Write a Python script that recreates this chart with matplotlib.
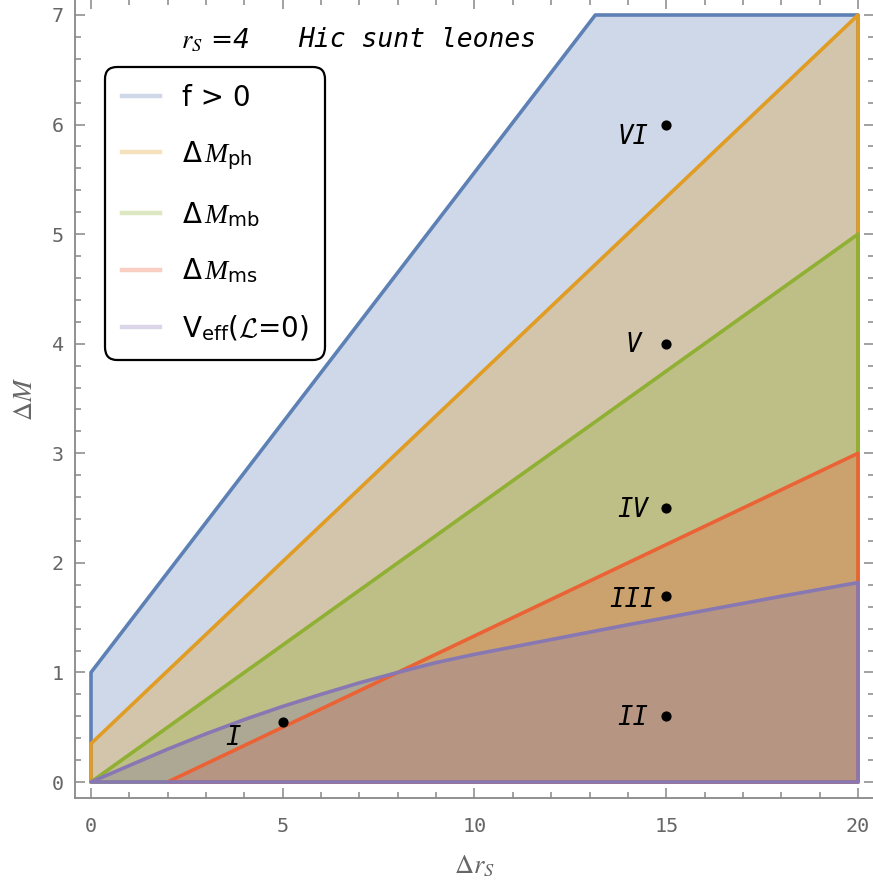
import matplotlib
matplotlib.use("Agg")
import matplotlib.pyplot as plt
from matplotlib.lines import Line2D
from matplotlib.patches import Polygon

plt.rcParams['mathtext.fontset'] = 'custom'
plt.rcParams['mathtext.rm'] = 'DejaVu Sans'
plt.rcParams['mathtext.it'] = 'Liberation Serif:italic'
plt.rcParams['mathtext.cal'] = 'cmsy10'

# region boundaries (closed polygons)
f_x = [0, 0, 13.15, 20, 20]
f_y = [0, 1.0, 7.0, 7.0, 0]
ph_x = [0, 0, 20, 20]
ph_y = [0, 0.35, 7.0, 0]
mb_x = [0, 20, 20]
mb_y = [0, 5.0, 0]
ms_x = [2, 20, 20]
ms_y = [0, 3.0, 0]
veff_x = [0, 1, 2, 3, 4, 5, 6, 7, 8, 9, 10, 12, 14, 16, 18, 20, 20]
veff_y = [0, 0.15, 0.30, 0.44, 0.57, 0.69, 0.80, 0.905, 1.0, 1.09, 1.165,
          1.30, 1.435, 1.565, 1.695, 1.82, 0]

names = ['f > 0', r'Δ$\,M_{\mathrm{ph}}$', r'Δ$\,M_{\mathrm{mb}}$',
         r'Δ$\,M_{\mathrm{ms}}$', r'V$_{\mathrm{eff}}$($\mathcal{L}$=0)']
colors = ['#5E81B5', '#E19C24', '#8FB032', '#EB6235', '#8778B3']

pts_x = [15, 15, 15, 15, 15, 5]
pts_y = [6.0, 4.0, 2.5, 1.7, 0.6, 0.55]
lab_txt = ['VI', 'V', 'IV', 'III', 'II', 'I']
lab_x = [14.13, 14.13, 14.13, 14.13, 14.13, 3.7]
lab_y = [5.89, 3.99, 2.48, 1.66, 0.58, 0.40]

fig = plt.figure(figsize=(8.73, 8.90), dpi=100)
ax = fig.add_axes([75/873, 92/890, 799/873, 799/890])

regions = [(f_x, f_y), (ph_x, ph_y), (mb_x, mb_y), (ms_x, ms_y), (veff_x, veff_y)]
for (xs, ys), c in zip(regions, colors):
    ax.add_patch(Polygon(list(zip(xs, ys)), closed=True, facecolor=c,
                         alpha=0.3, edgecolor='none', zorder=1))
for (xs, ys), c in zip(regions, colors):
    ax.add_patch(Polygon(list(zip(xs, ys)), closed=True, facecolor='none',
                         edgecolor=c, lw=2.6, joinstyle='round', zorder=2))

ax.scatter(pts_x, pts_y, s=40, color='black', zorder=4)
for t, x, y in zip(lab_txt, lab_x, lab_y):
    ax.text(x, y, t, ha='center', va='center', fontsize=18.5,
            family='DejaVu Sans Mono', style='italic', zorder=5)

ax.text(3.23, 6.77, r'$r_S$ =4', ha='center', va='center', fontsize=19,
        style='italic', math_fontfamily='stix')
ax.text(8.5, 6.77, 'Hic sunt leones', ha='center', va='center', fontsize=19,
        family='DejaVu Sans Mono', style='italic')

ax.set_xlim(-0.417, 20.417)
ax.set_ylim(-0.146, 7.146)
ax.set_xticks([0, 5, 10, 15, 20])
ax.set_xticks(range(0, 21), minor=True)
ax.set_yticks(range(0, 8))
ax.set_yticks([i * 0.2 for i in range(36)], minor=True)

gray = '#888888'
for s in ax.spines.values():
    s.set_color(gray)
    s.set_linewidth(1.3)
ax.tick_params(which='both', direction='in', top=True, right=True, color=gray,
               labelcolor='#666666', width=1.1)
ax.tick_params(which='major', length=7.5)
ax.tick_params(which='minor', length=4.5)
ax.tick_params(axis='x', pad=14)
ax.tick_params(axis='y', pad=8)
for lab in ax.get_xticklabels() + ax.get_yticklabels():
    lab.set_family('DejaVu Sans Mono')
    lab.set_fontsize(14.5)

ax.set_xlabel(r'$\Delta r_S$', fontsize=19, color='#666666', labelpad=12,
              math_fontfamily='stix')
ax.set_ylabel(r'$\Delta M$', fontsize=19, color='#666666', labelpad=10,
              math_fontfamily='stix')

handles = [Line2D([0], [0], color=c, alpha=0.3, lw=3.2) for c in colors]
leg = ax.legend(handles, names, loc='upper left', bbox_to_anchor=(0.0375, 0.915),
                borderaxespad=0, fancybox=True, framealpha=1, edgecolor='black',
                prop={'family': 'DejaVu Sans', 'size': 20},
                labelspacing=1.0, handlelength=1.37, handletextpad=0.8,
                borderpad=0.6)
leg.get_frame().set_linewidth(1.6)
leg.get_frame().set_boxstyle('round', pad=0, rounding_size=0.45)
leg.set_zorder(6)

fig.savefig('out.png', dpi=100)
